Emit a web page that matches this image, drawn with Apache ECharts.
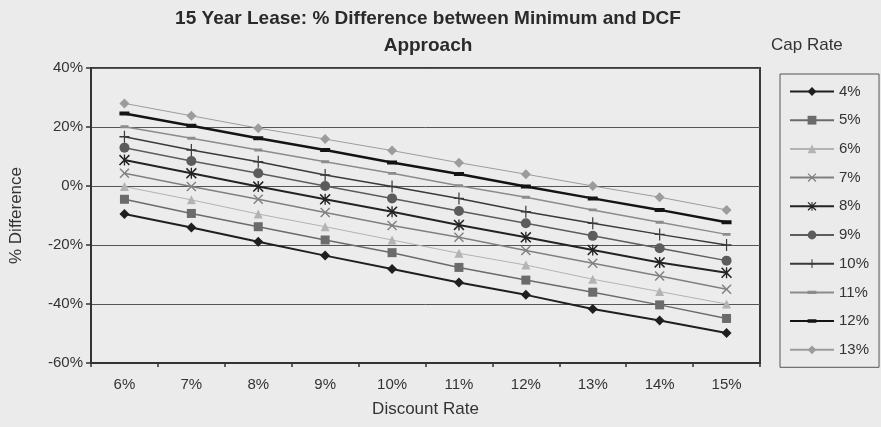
<!DOCTYPE html>
<html>
<head>
<meta charset="utf-8">
<script src="https://cdn.jsdelivr.net/npm/echarts@6/dist/echarts.min.js"></script>
<style>
  html, body { margin: 0; padding: 0; background: #ebebeb; }
  #chart { width: 881px; height: 427px; }
</style>
</head>
<body>
<div id="chart"></div>
<script>
// Discount rates along the x axis
const discountRates = ['6%', '7%', '8%', '9%', '10%', '11%', '12%', '13%', '14%', '15%'];

// % difference between the minimum and DCF approach, one array per cap rate
const cap4  = [-9.5, -14.1, -18.9, -23.6, -28.1, -32.7, -36.9, -41.7, -45.6, -49.8];
const cap5  = [-4.5, -9.3, -13.8, -18.3, -22.6, -27.6, -31.9, -36.0, -40.3, -44.9];
const cap6  = [-0.2, -4.7, -9.5, -13.8, -18.3, -22.8, -26.8, -31.6, -35.8, -40.0];
const cap7  = [4.3, -0.2, -4.5, -9.0, -13.4, -17.4, -21.9, -26.2, -30.5, -35.0];
const cap8  = [8.8, 4.3, -0.2, -4.5, -8.7, -13.2, -17.4, -21.7, -25.9, -29.4];
const cap9  = [13.0, 8.5, 4.3, 0.0, -4.2, -8.5, -12.6, -16.9, -21.1, -25.3];
const cap10 = [16.7, 12.2, 8.2, 3.7, -0.2, -4.2, -8.7, -12.6, -16.4, -20.0];
const cap11 = [20.1, 16.2, 12.2, 8.2, 4.3, 0.1, -3.8, -8.1, -12.3, -16.4];
const cap12 = [24.6, 20.4, 16.2, 12.2, 8.0, 4.1, -0.2, -4.2, -8.1, -12.3];
const cap13 = [28.0, 23.8, 19.6, 15.9, 12.0, 7.9, 4.0, 0.0, -3.8, -8.1];

const capRateNames = ['4%', '5%', '6%', '7%', '8%', '9%', '10%', '11%', '12%', '13%'];
const capRateValues = [cap4, cap5, cap6, cap7, cap8, cap9, cap10, cap11, cap12, cap13];

// Y axis range and step (percent)
const yMin = -60, yMax = 40, yStep = 20;

// Marker shapes not built into ECharts
const X_MARK = 'path://M0,1 L1,0 L5,4 L9,0 L10,1 L6,5 L10,9 L9,10 L5,6 L1,10 L0,9 L4,5 Z';
const STAR_MARK = 'path://M0,1 L1,0 L5,4 L9,0 L10,1 L6,5 L10,9 L9,10 L5,6 L1,10 L0,9 L4,5 Z M4.4,0 L5.6,0 L5.6,10 L4.4,10 Z';
const PLUS_MARK = 'path://M4.4,0 L5.6,0 L5.6,4.4 L10,4.4 L10,5.6 L5.6,5.6 L5.6,10 L4.4,10 L4.4,5.6 L0,5.6 L0,4.4 L4.4,4.4 Z';
// Flat dash markers; the specks in the corners keep a square bounding box so
// the dash stays flat in the square legend icon too
const DASH_THIN = 'path://M0,0 L0.01,0 L0,0.01 Z M0,3.2 L10,3.2 L10,6.8 L0,6.8 Z M10,10 L9.99,10 L10,9.99 Z';
const DASH_THICK = 'path://M0,0 L0.01,0 L0,0.01 Z M0,3 L10,3 L10,7 L0,7 Z M10,10 L9.99,10 L10,9.99 Z';

// Per-series look: colour, line width, marker and marker size
const seriesLook = [
  { color: '#1f1f1f', width: 2,   symbol: 'diamond',  size: 10 },
  { color: '#6b6b6b', width: 1.5, symbol: 'rect',     size: 9 },
  { color: '#b3b3b3', width: 1,   symbol: 'triangle', size: 9 },
  { color: '#808080', width: 1.5, symbol: X_MARK,     size: 10 },
  { color: '#232323', width: 2,   symbol: STAR_MARK,  size: 11 },
  { color: '#5c5c5c', width: 1.5, symbol: 'circle',   size: 10 },
  { color: '#3a3a3a', width: 1.5, symbol: PLUS_MARK,  size: [10, 12] },
  { color: '#8c8c8c', width: 1.5, symbol: DASH_THIN,  size: 8 },
  { color: '#141414', width: 2.5, symbol: DASH_THICK, size: 10 },
  { color: '#9c9c9c', width: 1,   symbol: 'diamond',  size: 10 }
];

const FONT = '"Liberation Sans", Arial, sans-serif';
const TEXT = '#333333';

const series = capRateNames.map((name, i) => ({
  name: name,
  type: 'line',
  data: capRateValues[i],
  symbol: seriesLook[i].symbol,
  symbolSize: seriesLook[i].size,
  showAllSymbol: true,
  lineStyle: { color: seriesLook[i].color, width: seriesLook[i].width },
  itemStyle: { color: seriesLook[i].color },
  emphasis: { disabled: true },
  animation: false
}));

const chart = echarts.init(document.getElementById('chart'), null, { renderer: 'canvas' });
chart.setOption({
  backgroundColor: '#ebebeb',
  animation: false,
  title: {
    text: '15 Year Lease: % Difference between Minimum and DCF\nApproach',
    left: 423, top: 0, textAlign: 'center',
    textStyle: { fontFamily: FONT, fontSize: 19, fontWeight: 'bold', color: '#2a2a2a', lineHeight: 27 }
  },
  graphic: [{
    type: 'text', left: 771, top: 37,
    style: { text: 'Cap Rate', font: '17px ' + FONT, fill: TEXT }
  }],
  legend: {
    orient: 'vertical',
    left: 780, top: 74,
    padding: [10, 10, 10, 9],
    borderColor: '#555', borderWidth: 1,
    itemWidth: 44, itemHeight: 11, itemGap: 13.7,
    textStyle: { fontFamily: FONT, fontSize: 15, color: TEXT, lineHeight: 11 },
    data: capRateNames
  },
  grid: {
    left: 90, right: 121, top: 68, bottom: 64,
    show: true, borderColor: '#3a3a3a', borderWidth: 2, backgroundColor: '#ececec'
  },
  xAxis: {
    type: 'category',
    data: discountRates,
    boundaryGap: true,
    name: 'Discount Rate',
    nameLocation: 'middle', nameGap: 38,
    nameTextStyle: { fontFamily: FONT, fontSize: 17, color: TEXT },
    axisLine: { onZero: false, lineStyle: { color: '#333', width: 2 } },
    axisTick: { show: true, length: 4, lineStyle: { color: '#333', width: 1.5 } },
    axisLabel: { fontFamily: FONT, fontSize: 15, color: TEXT, margin: 14 }
  },
  yAxis: {
    type: 'value',
    min: yMin, max: yMax, interval: yStep,
    name: '% Difference',
    nameLocation: 'middle', nameGap: 66,
    nameTextStyle: { fontFamily: FONT, fontSize: 17, color: TEXT },
    axisLine: { show: true, lineStyle: { color: '#333', width: 2 } },
    axisTick: { show: true, length: 5, lineStyle: { color: '#333', width: 1.5 } },
    axisLabel: { fontFamily: FONT, fontSize: 15, color: TEXT, margin: 8, formatter: '{value}%' },
    splitLine: { show: true, lineStyle: { color: '#555', width: 1 } }
  },
  series: series
});
</script>
</body>
</html>
